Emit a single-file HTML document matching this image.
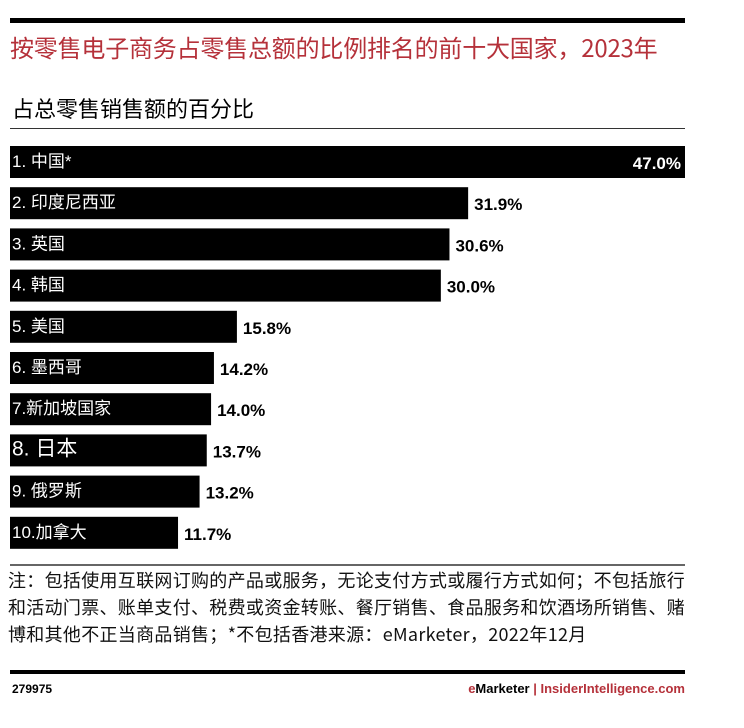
<!DOCTYPE html>
<html><head><meta charset="utf-8">
<style>
body{margin:0;width:744px;height:728px;background:#fff;font-family:"Liberation Sans","Noto Sans CJK SC",sans-serif;position:relative;overflow:hidden}
.abs{position:absolute}
</style></head>
<body>
<div class="abs" style="left:10px;top:18px;width:675px;height:5px;background:#000"></div>
<div class="abs" style="left:10px;top:29px;font-size:24px;color:#b5313a;font-family:'Noto Sans CJK SC',sans-serif;white-space:nowrap;letter-spacing:-0.2px">按零售电子商务占零售总额的比例排名的前十大国家，2023年</div>
<div class="abs" style="left:12px;top:92px;font-size:22px;color:#000;font-family:'Noto Sans CJK SC',sans-serif">占总零售销售额的百分比</div>
<div class="abs" style="left:10px;top:128px;width:675px;height:1px;background:#333"></div>
<svg class="abs" style="left:0;top:0" width="744" height="728" id="chart"></svg>
<div class="abs" style="left:10px;top:564px;width:675px;height:2px;background:#666"></div>
<div class="abs" style="left:8px;top:567px;width:730px;font-size:18px;line-height:27px;color:#111;font-family:'Noto Sans CJK SC',sans-serif;letter-spacing:0.3px;white-space:nowrap">注：包括使用互联网订购的产品或服务，无论支付方式或履行方式如何；不包括旅行<br>和活动门票、账单支付、税费或资金转账、餐厅销售、食品服务和饮酒场所销售、赌<br>博和其他不正当商品销售；*不包括香港来源：eMarketer，2022年12月</div>
<div class="abs" style="left:10px;top:670px;width:675px;height:4px;background:#000"></div>
<div class="abs" style="left:12px;top:682px;font-size:12px;font-weight:bold">279975</div>
<div class="abs" style="right:59px;top:681px;font-size:13px;font-weight:bold;white-space:nowrap"><span style="color:#b5313a">e</span>Marketer <span style="color:#b5313a">|</span> <span style="color:#b5313a">InsiderIntelligence.com</span></div>
<script>
const categories=["1. 中国*","2. 印度尼西亚","3. 英国","4. 韩国","5. 美国","6. 墨西哥","7.新加坡国家","8. 日本","9. 俄罗斯","10.加拿大"];
const values=[47.0,31.9,30.6,30.0,15.8,14.2,14.0,13.7,13.2,11.7];
const valueLabels=["47.0%","31.9%","30.6%","30.0%","15.8%","14.2%","14.0%","13.7%","13.2%","11.7%"];
const svg=document.getElementById('chart');
const NS='http://www.w3.org/2000/svg';
const x0=10,xMax=685,vMax=47.0,y0=146,step=41.2,bh=32;
const xs=v=>(xMax-x0)*v/vMax;
const ys=i=>y0+i*step;
categories.forEach((c,i)=>{
  const w=xs(values[i]);
  const r=document.createElementNS(NS,'rect');
  r.setAttribute('x',x0);r.setAttribute('y',ys(i));r.setAttribute('width',w);r.setAttribute('height',bh);r.setAttribute('fill','#000');
  
  
  svg.appendChild(r);
  const t=document.createElementNS(NS,'text');
  t.setAttribute('x',x0+2);t.setAttribute('y',ys(i)+bh/2+5);t.setAttribute('fill','#fff');
  t.setAttribute('font-size',i===7?'21':'17');
  t.setAttribute('font-family','"Liberation Sans","Noto Sans CJK SC",sans-serif');
  t.textContent=c;
  
  
  svg.appendChild(t);
  const v=document.createElementNS(NS,'text');
  const inside=i===0;
  v.setAttribute('x',inside?x0+w-4:x0+w+6);
  v.setAttribute('text-anchor',inside?'end':'start');
  v.setAttribute('y',ys(i)+bh/2+7);
  v.setAttribute('fill',inside?'#fff':'#000');
  v.setAttribute('font-size','17');v.setAttribute('font-weight','bold');
  v.setAttribute('font-family','"Liberation Sans",sans-serif');
  v.textContent=valueLabels[i];
  
  
  svg.appendChild(v);
});
</script>
</body></html>
